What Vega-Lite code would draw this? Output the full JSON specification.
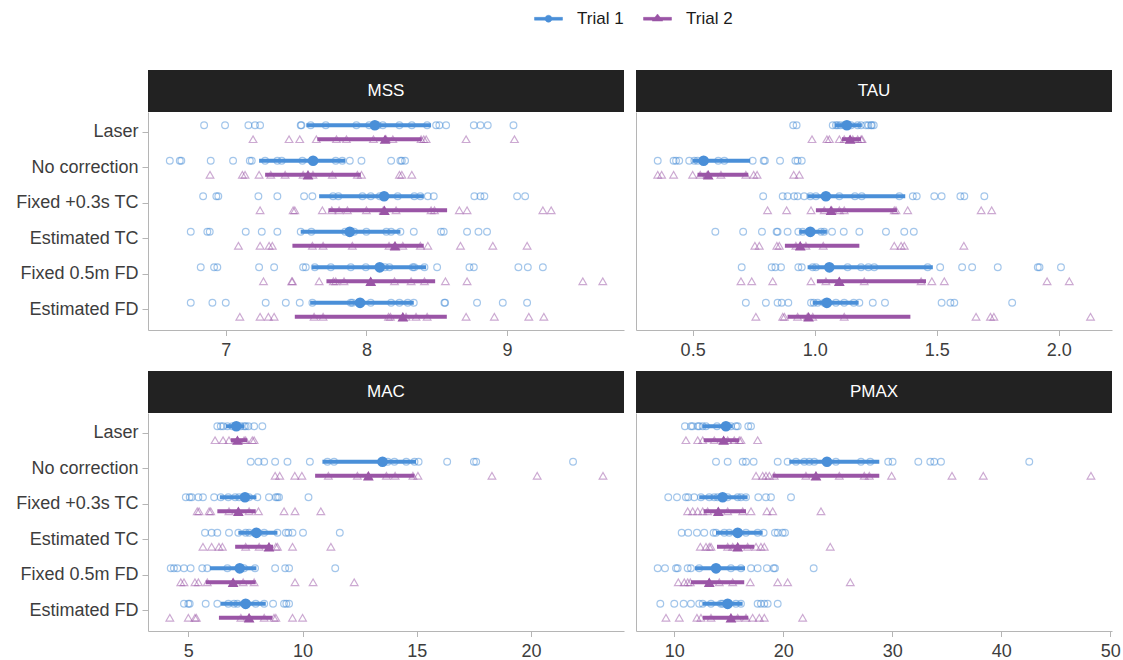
{
"$schema": "https://vega.github.io/schema/vega-lite/v6.json",
"padding": {"left": 15, "top": 4, "right": 5, "bottom": 5},
"config": {
 "font": "Liberation Sans",
 "view": {"stroke": null},
 "axis": {"grid": false, "domainColor": "#b5b5b5", "tickColor": "#b5b5b5", "labelColor": "#3d3d3d", "labelFontSize": 18, "labelFont": "Liberation Sans"},
 "legend": {"labelFontSize": 17, "labelColor": "#1a1a1a", "labelFont": "Liberation Sans"}
},
"datasets": {
"MSS": [
{"method":"Laser","trial":1,"value":6.846},{"method":"Laser","trial":1,"value":6.995},{"method":"Laser","trial":1,"value":7.161},{"method":"Laser","trial":1,"value":7.208},{"method":"Laser","trial":1,"value":7.244},{"method":"Laser","trial":1,"value":7.533},{"method":"Laser","trial":1,"value":7.538},{"method":"Laser","trial":1,"value":7.604},{"method":"Laser","trial":1,"value":7.711},{"method":"Laser","trial":1,"value":7.929},{"method":"Laser","trial":1,"value":8.02},{"method":"Laser","trial":1,"value":8.08},{"method":"Laser","trial":1,"value":8.117},{"method":"Laser","trial":1,"value":8.235},{"method":"Laser","trial":1,"value":8.323},{"method":"Laser","trial":1,"value":8.432},{"method":"Laser","trial":1,"value":8.496},{"method":"Laser","trial":1,"value":8.519},{"method":"Laser","trial":1,"value":8.567},{"method":"Laser","trial":1,"value":8.764},{"method":"Laser","trial":1,"value":8.811},{"method":"Laser","trial":1,"value":8.863},{"method":"Laser","trial":1,"value":9.046},
{"method":"Laser","trial":2,"value":7.194},{"method":"Laser","trial":2,"value":7.45},{"method":"Laser","trial":2,"value":7.526},{"method":"Laser","trial":2,"value":7.644},{"method":"Laser","trial":2,"value":7.787},{"method":"Laser","trial":2,"value":7.858},{"method":"Laser","trial":2,"value":8.05},{"method":"Laser","trial":2,"value":8.14},{"method":"Laser","trial":2,"value":8.188},{"method":"Laser","trial":2,"value":8.389},{"method":"Laser","trial":2,"value":8.408},{"method":"Laser","trial":2,"value":8.425},{"method":"Laser","trial":2,"value":8.709},{"method":"Laser","trial":2,"value":9.053},
{"method":"No correction","trial":1,"value":6.602},{"method":"No correction","trial":1,"value":6.673},{"method":"No correction","trial":1,"value":6.684},{"method":"No correction","trial":1,"value":6.893},{"method":"No correction","trial":1,"value":7.052},{"method":"No correction","trial":1,"value":7.171},{"method":"No correction","trial":1,"value":7.185},{"method":"No correction","trial":1,"value":7.28},{"method":"No correction","trial":1,"value":7.367},{"method":"No correction","trial":1,"value":7.398},{"method":"No correction","trial":1,"value":7.545},{"method":"No correction","trial":1,"value":7.62},{"method":"No correction","trial":1,"value":7.782},{"method":"No correction","trial":1,"value":7.829},{"method":"No correction","trial":1,"value":7.882},{"method":"No correction","trial":1,"value":7.965},{"method":"No correction","trial":1,"value":8.176},{"method":"No correction","trial":1,"value":8.242},{"method":"No correction","trial":1,"value":8.252},{"method":"No correction","trial":1,"value":8.275},
{"method":"No correction","trial":2,"value":6.888},{"method":"No correction","trial":2,"value":7.118},{"method":"No correction","trial":2,"value":7.137},{"method":"No correction","trial":2,"value":7.237},{"method":"No correction","trial":2,"value":7.32},{"method":"No correction","trial":2,"value":7.422},{"method":"No correction","trial":2,"value":7.55},{"method":"No correction","trial":2,"value":7.62},{"method":"No correction","trial":2,"value":7.758},{"method":"No correction","trial":2,"value":7.936},{"method":"No correction","trial":2,"value":7.965},{"method":"No correction","trial":2,"value":8.235},{"method":"No correction","trial":2,"value":8.252},{"method":"No correction","trial":2,"value":8.323},
{"method":"Fixed +0.3s TC","trial":1,"value":6.839},{"method":"Fixed +0.3s TC","trial":1,"value":6.933},{"method":"Fixed +0.3s TC","trial":1,"value":6.947},{"method":"Fixed +0.3s TC","trial":1,"value":7.232},{"method":"Fixed +0.3s TC","trial":1,"value":7.367},{"method":"Fixed +0.3s TC","trial":1,"value":7.557},{"method":"Fixed +0.3s TC","trial":1,"value":7.616},{"method":"Fixed +0.3s TC","trial":1,"value":7.763},{"method":"Fixed +0.3s TC","trial":1,"value":7.801},{"method":"Fixed +0.3s TC","trial":1,"value":7.972},{"method":"Fixed +0.3s TC","trial":1,"value":8.031},{"method":"Fixed +0.3s TC","trial":1,"value":8.095},{"method":"Fixed +0.3s TC","trial":1,"value":8.223},{"method":"Fixed +0.3s TC","trial":1,"value":8.341},{"method":"Fixed +0.3s TC","trial":1,"value":8.384},{"method":"Fixed +0.3s TC","trial":1,"value":8.437},{"method":"Fixed +0.3s TC","trial":1,"value":8.479},{"method":"Fixed +0.3s TC","trial":1,"value":8.768},{"method":"Fixed +0.3s TC","trial":1,"value":8.811},{"method":"Fixed +0.3s TC","trial":1,"value":8.839},{"method":"Fixed +0.3s TC","trial":1,"value":9.072},{"method":"Fixed +0.3s TC","trial":1,"value":9.129},
{"method":"Fixed +0.3s TC","trial":2,"value":7.244},{"method":"Fixed +0.3s TC","trial":2,"value":7.479},{"method":"Fixed +0.3s TC","trial":2,"value":7.491},{"method":"Fixed +0.3s TC","trial":2,"value":7.687},{"method":"Fixed +0.3s TC","trial":2,"value":7.754},{"method":"Fixed +0.3s TC","trial":2,"value":7.806},{"method":"Fixed +0.3s TC","trial":2,"value":7.865},{"method":"Fixed +0.3s TC","trial":2,"value":8.0},{"method":"Fixed +0.3s TC","trial":2,"value":8.12},{"method":"Fixed +0.3s TC","trial":2,"value":8.211},{"method":"Fixed +0.3s TC","trial":2,"value":8.46},{"method":"Fixed +0.3s TC","trial":2,"value":8.484},{"method":"Fixed +0.3s TC","trial":2,"value":8.661},{"method":"Fixed +0.3s TC","trial":2,"value":8.716},{"method":"Fixed +0.3s TC","trial":2,"value":9.255},{"method":"Fixed +0.3s TC","trial":2,"value":9.314},
{"method":"Estimated TC","trial":1,"value":6.751},{"method":"Estimated TC","trial":1,"value":6.869},{"method":"Estimated TC","trial":1,"value":6.886},{"method":"Estimated TC","trial":1,"value":7.142},{"method":"Estimated TC","trial":1,"value":7.256},{"method":"Estimated TC","trial":1,"value":7.367},{"method":"Estimated TC","trial":1,"value":7.533},{"method":"Estimated TC","trial":1,"value":7.609},{"method":"Estimated TC","trial":1,"value":7.849},{"method":"Estimated TC","trial":1,"value":7.913},{"method":"Estimated TC","trial":1,"value":8.0},{"method":"Estimated TC","trial":1,"value":8.142},{"method":"Estimated TC","trial":1,"value":8.176},{"method":"Estimated TC","trial":1,"value":8.242},{"method":"Estimated TC","trial":1,"value":8.337},{"method":"Estimated TC","trial":1,"value":8.531},{"method":"Estimated TC","trial":1,"value":8.55},{"method":"Estimated TC","trial":1,"value":8.716},{"method":"Estimated TC","trial":1,"value":8.797},{"method":"Estimated TC","trial":1,"value":8.858},
{"method":"Estimated TC","trial":2,"value":7.09},{"method":"Estimated TC","trial":2,"value":7.244},{"method":"Estimated TC","trial":2,"value":7.308},{"method":"Estimated TC","trial":2,"value":7.331},{"method":"Estimated TC","trial":2,"value":7.616},{"method":"Estimated TC","trial":2,"value":7.692},{"method":"Estimated TC","trial":2,"value":7.9},{"method":"Estimated TC","trial":2,"value":8.161},{"method":"Estimated TC","trial":2,"value":8.2},{"method":"Estimated TC","trial":2,"value":8.259},{"method":"Estimated TC","trial":2,"value":8.384},{"method":"Estimated TC","trial":2,"value":8.437},{"method":"Estimated TC","trial":2,"value":8.669},{"method":"Estimated TC","trial":2,"value":8.899},{"method":"Estimated TC","trial":2,"value":9.143},
{"method":"Fixed 0.5m FD","trial":1,"value":6.822},{"method":"Fixed 0.5m FD","trial":1,"value":6.917},{"method":"Fixed 0.5m FD","trial":1,"value":6.94},{"method":"Fixed 0.5m FD","trial":1,"value":7.237},{"method":"Fixed 0.5m FD","trial":1,"value":7.344},{"method":"Fixed 0.5m FD","trial":1,"value":7.55},{"method":"Fixed 0.5m FD","trial":1,"value":7.569},{"method":"Fixed 0.5m FD","trial":1,"value":7.633},{"method":"Fixed 0.5m FD","trial":1,"value":7.747},{"method":"Fixed 0.5m FD","trial":1,"value":7.889},{"method":"Fixed 0.5m FD","trial":1,"value":7.996},{"method":"Fixed 0.5m FD","trial":1,"value":8.133},{"method":"Fixed 0.5m FD","trial":1,"value":8.164},{"method":"Fixed 0.5m FD","trial":1,"value":8.33},{"method":"Fixed 0.5m FD","trial":1,"value":8.341},{"method":"Fixed 0.5m FD","trial":1,"value":8.413},{"method":"Fixed 0.5m FD","trial":1,"value":8.503},{"method":"Fixed 0.5m FD","trial":1,"value":8.733},{"method":"Fixed 0.5m FD","trial":1,"value":8.764},{"method":"Fixed 0.5m FD","trial":1,"value":9.081},{"method":"Fixed 0.5m FD","trial":1,"value":9.148},{"method":"Fixed 0.5m FD","trial":1,"value":9.255},
{"method":"Fixed 0.5m FD","trial":2,"value":7.268},{"method":"Fixed 0.5m FD","trial":2,"value":7.469},{"method":"Fixed 0.5m FD","trial":2,"value":7.474},{"method":"Fixed 0.5m FD","trial":2,"value":7.664},{"method":"Fixed 0.5m FD","trial":2,"value":7.765},{"method":"Fixed 0.5m FD","trial":2,"value":7.782},{"method":"Fixed 0.5m FD","trial":2,"value":7.841},{"method":"Fixed 0.5m FD","trial":2,"value":8.03},{"method":"Fixed 0.5m FD","trial":2,"value":8.2},{"method":"Fixed 0.5m FD","trial":2,"value":8.318},{"method":"Fixed 0.5m FD","trial":2,"value":8.413},{"method":"Fixed 0.5m FD","trial":2,"value":8.562},{"method":"Fixed 0.5m FD","trial":2,"value":8.716},{"method":"Fixed 0.5m FD","trial":2,"value":9.539},{"method":"Fixed 0.5m FD","trial":2,"value":9.681},
{"method":"Estimated FD","trial":1,"value":6.751},{"method":"Estimated FD","trial":1,"value":6.905},{"method":"Estimated FD","trial":1,"value":7.0},{"method":"Estimated FD","trial":1,"value":7.284},{"method":"Estimated FD","trial":1,"value":7.427},{"method":"Estimated FD","trial":1,"value":7.526},{"method":"Estimated FD","trial":1,"value":7.616},{"method":"Estimated FD","trial":1,"value":7.889},{"method":"Estimated FD","trial":1,"value":7.901},{"method":"Estimated FD","trial":1,"value":8.031},{"method":"Estimated FD","trial":1,"value":8.176},{"method":"Estimated FD","trial":1,"value":8.235},{"method":"Estimated FD","trial":1,"value":8.294},{"method":"Estimated FD","trial":1,"value":8.337},{"method":"Estimated FD","trial":1,"value":8.555},{"method":"Estimated FD","trial":1,"value":8.56},{"method":"Estimated FD","trial":1,"value":8.787},{"method":"Estimated FD","trial":1,"value":8.97},{"method":"Estimated FD","trial":1,"value":9.143},
{"method":"Estimated FD","trial":2,"value":7.1},{"method":"Estimated FD","trial":2,"value":7.244},{"method":"Estimated FD","trial":2,"value":7.303},{"method":"Estimated FD","trial":2,"value":7.344},{"method":"Estimated FD","trial":2,"value":7.628},{"method":"Estimated FD","trial":2,"value":7.692},{"method":"Estimated FD","trial":2,"value":8.157},{"method":"Estimated FD","trial":2,"value":8.171},{"method":"Estimated FD","trial":2,"value":8.26},{"method":"Estimated FD","trial":2,"value":8.282},{"method":"Estimated FD","trial":2,"value":8.353},{"method":"Estimated FD","trial":2,"value":8.432},{"method":"Estimated FD","trial":2,"value":8.709},{"method":"Estimated FD","trial":2,"value":8.91},{"method":"Estimated FD","trial":2,"value":9.155},{"method":"Estimated FD","trial":2,"value":9.262}
],
"TAU": [
{"method":"Laser","trial":1,"value":0.912},{"method":"Laser","trial":1,"value":0.926},{"method":"Laser","trial":1,"value":1.074},{"method":"Laser","trial":1,"value":1.087},{"method":"Laser","trial":1,"value":1.094},{"method":"Laser","trial":1,"value":1.105},{"method":"Laser","trial":1,"value":1.121},{"method":"Laser","trial":1,"value":1.132},{"method":"Laser","trial":1,"value":1.149},{"method":"Laser","trial":1,"value":1.176},{"method":"Laser","trial":1,"value":1.19},{"method":"Laser","trial":1,"value":1.21},{"method":"Laser","trial":1,"value":1.22},{"method":"Laser","trial":1,"value":1.231},{"method":"Laser","trial":1,"value":1.234},{"method":"Laser","trial":1,"value":1.242},
{"method":"Laser","trial":2,"value":0.989},{"method":"Laser","trial":2,"value":1.05},{"method":"Laser","trial":2,"value":1.06},{"method":"Laser","trial":2,"value":1.101},{"method":"Laser","trial":2,"value":1.121},{"method":"Laser","trial":2,"value":1.145},{"method":"Laser","trial":2,"value":1.156},{"method":"Laser","trial":2,"value":1.176},{"method":"Laser","trial":2,"value":1.19},{"method":"Laser","trial":2,"value":1.194},
{"method":"No correction","trial":1,"value":0.357},{"method":"No correction","trial":1,"value":0.422},{"method":"No correction","trial":1,"value":0.432},{"method":"No correction","trial":1,"value":0.445},{"method":"No correction","trial":1,"value":0.486},{"method":"No correction","trial":1,"value":0.507},{"method":"No correction","trial":1,"value":0.52},{"method":"No correction","trial":1,"value":0.605},{"method":"No correction","trial":1,"value":0.63},{"method":"No correction","trial":1,"value":0.746},{"method":"No correction","trial":1,"value":0.791},{"method":"No correction","trial":1,"value":0.796},{"method":"No correction","trial":1,"value":0.858},{"method":"No correction","trial":1,"value":0.921},{"method":"No correction","trial":1,"value":0.93},{"method":"No correction","trial":1,"value":0.947},
{"method":"No correction","trial":2,"value":0.357},{"method":"No correction","trial":2,"value":0.373},{"method":"No correction","trial":2,"value":0.422},{"method":"No correction","trial":2,"value":0.5},{"method":"No correction","trial":2,"value":0.531},{"method":"No correction","trial":2,"value":0.56},{"method":"No correction","trial":2,"value":0.616},{"method":"No correction","trial":2,"value":0.718},{"method":"No correction","trial":2,"value":0.75},{"method":"No correction","trial":2,"value":0.764},{"method":"No correction","trial":2,"value":0.914},{"method":"No correction","trial":2,"value":0.937},
{"method":"Fixed +0.3s TC","trial":1,"value":0.789},{"method":"Fixed +0.3s TC","trial":1,"value":0.869},{"method":"Fixed +0.3s TC","trial":1,"value":0.889},{"method":"Fixed +0.3s TC","trial":1,"value":0.916},{"method":"Fixed +0.3s TC","trial":1,"value":0.93},{"method":"Fixed +0.3s TC","trial":1,"value":0.957},{"method":"Fixed +0.3s TC","trial":1,"value":0.982},{"method":"Fixed +0.3s TC","trial":1,"value":1.005},{"method":"Fixed +0.3s TC","trial":1,"value":1.101},{"method":"Fixed +0.3s TC","trial":1,"value":1.165},{"method":"Fixed +0.3s TC","trial":1,"value":1.193},{"method":"Fixed +0.3s TC","trial":1,"value":1.347},{"method":"Fixed +0.3s TC","trial":1,"value":1.402},{"method":"Fixed +0.3s TC","trial":1,"value":1.418},{"method":"Fixed +0.3s TC","trial":1,"value":1.49},{"method":"Fixed +0.3s TC","trial":1,"value":1.52},{"method":"Fixed +0.3s TC","trial":1,"value":1.597},{"method":"Fixed +0.3s TC","trial":1,"value":1.613},{"method":"Fixed +0.3s TC","trial":1,"value":1.695},
{"method":"Fixed +0.3s TC","trial":2,"value":0.807},{"method":"Fixed +0.3s TC","trial":2,"value":0.885},{"method":"Fixed +0.3s TC","trial":2,"value":0.985},{"method":"Fixed +0.3s TC","trial":2,"value":1.039},{"method":"Fixed +0.3s TC","trial":2,"value":1.07},{"method":"Fixed +0.3s TC","trial":2,"value":1.101},{"method":"Fixed +0.3s TC","trial":2,"value":1.121},{"method":"Fixed +0.3s TC","trial":2,"value":1.326},{"method":"Fixed +0.3s TC","trial":2,"value":1.333},{"method":"Fixed +0.3s TC","trial":2,"value":1.381},{"method":"Fixed +0.3s TC","trial":2,"value":1.682},{"method":"Fixed +0.3s TC","trial":2,"value":1.725},
{"method":"Estimated TC","trial":1,"value":0.593},{"method":"Estimated TC","trial":1,"value":0.707},{"method":"Estimated TC","trial":1,"value":0.784},{"method":"Estimated TC","trial":1,"value":0.844},{"method":"Estimated TC","trial":1,"value":0.848},{"method":"Estimated TC","trial":1,"value":0.889},{"method":"Estimated TC","trial":1,"value":0.933},{"method":"Estimated TC","trial":1,"value":0.951},{"method":"Estimated TC","trial":1,"value":1.026},{"method":"Estimated TC","trial":1,"value":1.039},{"method":"Estimated TC","trial":1,"value":1.071},{"method":"Estimated TC","trial":1,"value":1.119},{"method":"Estimated TC","trial":1,"value":1.183},{"method":"Estimated TC","trial":1,"value":1.292},{"method":"Estimated TC","trial":1,"value":1.367},{"method":"Estimated TC","trial":1,"value":1.406},
{"method":"Estimated TC","trial":2,"value":0.755},{"method":"Estimated TC","trial":2,"value":0.773},{"method":"Estimated TC","trial":2,"value":0.845},{"method":"Estimated TC","trial":2,"value":0.855},{"method":"Estimated TC","trial":2,"value":0.923},{"method":"Estimated TC","trial":2,"value":0.94},{"method":"Estimated TC","trial":2,"value":0.964},{"method":"Estimated TC","trial":2,"value":1.035},{"method":"Estimated TC","trial":2,"value":1.326},{"method":"Estimated TC","trial":2,"value":1.354},{"method":"Estimated TC","trial":2,"value":1.367},{"method":"Estimated TC","trial":2,"value":1.611},
{"method":"Fixed 0.5m FD","trial":1,"value":0.701},{"method":"Fixed 0.5m FD","trial":1,"value":0.824},{"method":"Fixed 0.5m FD","trial":1,"value":0.839},{"method":"Fixed 0.5m FD","trial":1,"value":0.862},{"method":"Fixed 0.5m FD","trial":1,"value":0.933},{"method":"Fixed 0.5m FD","trial":1,"value":0.947},{"method":"Fixed 0.5m FD","trial":1,"value":0.992},{"method":"Fixed 0.5m FD","trial":1,"value":1.005},{"method":"Fixed 0.5m FD","trial":1,"value":1.135},{"method":"Fixed 0.5m FD","trial":1,"value":1.19},{"method":"Fixed 0.5m FD","trial":1,"value":1.22},{"method":"Fixed 0.5m FD","trial":1,"value":1.244},{"method":"Fixed 0.5m FD","trial":1,"value":1.463},{"method":"Fixed 0.5m FD","trial":1,"value":1.514},{"method":"Fixed 0.5m FD","trial":1,"value":1.604},{"method":"Fixed 0.5m FD","trial":1,"value":1.645},{"method":"Fixed 0.5m FD","trial":1,"value":1.75},{"method":"Fixed 0.5m FD","trial":1,"value":1.914},{"method":"Fixed 0.5m FD","trial":1,"value":1.921},{"method":"Fixed 0.5m FD","trial":1,"value":2.009},
{"method":"Fixed 0.5m FD","trial":2,"value":0.698},{"method":"Fixed 0.5m FD","trial":2,"value":0.742},{"method":"Fixed 0.5m FD","trial":2,"value":0.828},{"method":"Fixed 0.5m FD","trial":2,"value":0.985},{"method":"Fixed 0.5m FD","trial":2,"value":1.046},{"method":"Fixed 0.5m FD","trial":2,"value":1.1},{"method":"Fixed 0.5m FD","trial":2,"value":1.203},{"method":"Fixed 0.5m FD","trial":2,"value":1.436},{"method":"Fixed 0.5m FD","trial":2,"value":1.48},{"method":"Fixed 0.5m FD","trial":2,"value":1.531},{"method":"Fixed 0.5m FD","trial":2,"value":1.952},{"method":"Fixed 0.5m FD","trial":2,"value":2.043},
{"method":"Estimated FD","trial":1,"value":0.718},{"method":"Estimated FD","trial":1,"value":0.8},{"method":"Estimated FD","trial":1,"value":0.848},{"method":"Estimated FD","trial":1,"value":0.865},{"method":"Estimated FD","trial":1,"value":0.892},{"method":"Estimated FD","trial":1,"value":0.985},{"method":"Estimated FD","trial":1,"value":0.996},{"method":"Estimated FD","trial":1,"value":1.012},{"method":"Estimated FD","trial":1,"value":1.039},{"method":"Estimated FD","trial":1,"value":1.087},{"method":"Estimated FD","trial":1,"value":1.121},{"method":"Estimated FD","trial":1,"value":1.16},{"method":"Estimated FD","trial":1,"value":1.183},{"method":"Estimated FD","trial":1,"value":1.238},{"method":"Estimated FD","trial":1,"value":1.288},{"method":"Estimated FD","trial":1,"value":1.52},{"method":"Estimated FD","trial":1,"value":1.556},{"method":"Estimated FD","trial":1,"value":1.572},{"method":"Estimated FD","trial":1,"value":1.809},
{"method":"Estimated FD","trial":2,"value":0.759},{"method":"Estimated FD","trial":2,"value":0.869},{"method":"Estimated FD","trial":2,"value":0.876},{"method":"Estimated FD","trial":2,"value":0.93},{"method":"Estimated FD","trial":2,"value":0.97},{"method":"Estimated FD","trial":2,"value":0.992},{"method":"Estimated FD","trial":2,"value":1.121},{"method":"Estimated FD","trial":2,"value":1.661},{"method":"Estimated FD","trial":2,"value":1.72},{"method":"Estimated FD","trial":2,"value":1.734},{"method":"Estimated FD","trial":2,"value":2.13}
],
"MAC": [
{"method":"Laser","trial":1,"value":6.27},{"method":"Laser","trial":1,"value":6.42},{"method":"Laser","trial":1,"value":6.52},{"method":"Laser","trial":1,"value":6.71},{"method":"Laser","trial":1,"value":6.93},{"method":"Laser","trial":1,"value":7.1},{"method":"Laser","trial":1,"value":7.3},{"method":"Laser","trial":1,"value":7.44},{"method":"Laser","trial":1,"value":7.51},{"method":"Laser","trial":1,"value":7.63},{"method":"Laser","trial":1,"value":7.88},{"method":"Laser","trial":1,"value":8.24},
{"method":"Laser","trial":2,"value":6.17},{"method":"Laser","trial":2,"value":6.52},{"method":"Laser","trial":2,"value":6.78},{"method":"Laser","trial":2,"value":7.15},{"method":"Laser","trial":2,"value":7.44},{"method":"Laser","trial":2,"value":7.51},{"method":"Laser","trial":2,"value":7.8},{"method":"Laser","trial":2,"value":7.88},
{"method":"No correction","trial":1,"value":7.73},{"method":"No correction","trial":1,"value":8.07},{"method":"No correction","trial":1,"value":8.32},{"method":"No correction","trial":1,"value":8.8},{"method":"No correction","trial":1,"value":9.34},{"method":"No correction","trial":1,"value":10.32},{"method":"No correction","trial":1,"value":11.09},{"method":"No correction","trial":1,"value":11.38},{"method":"No correction","trial":1,"value":13.5},{"method":"No correction","trial":1,"value":13.73},{"method":"No correction","trial":1,"value":14.02},{"method":"No correction","trial":1,"value":14.54},{"method":"No correction","trial":1,"value":14.9},{"method":"No correction","trial":1,"value":15.08},{"method":"No correction","trial":1,"value":16.33},{"method":"No correction","trial":1,"value":17.5},{"method":"No correction","trial":1,"value":17.6},{"method":"No correction","trial":1,"value":21.84},
{"method":"No correction","trial":2,"value":8.8},{"method":"No correction","trial":2,"value":9.0},{"method":"No correction","trial":2,"value":9.66},{"method":"No correction","trial":2,"value":9.97},{"method":"No correction","trial":2,"value":11.13},{"method":"No correction","trial":2,"value":12.4},{"method":"No correction","trial":2,"value":12.88},{"method":"No correction","trial":2,"value":13.67},{"method":"No correction","trial":2,"value":14.05},{"method":"No correction","trial":2,"value":14.83},{"method":"No correction","trial":2,"value":15.05},{"method":"No correction","trial":2,"value":18.29},{"method":"No correction","trial":2,"value":20.27},{"method":"No correction","trial":2,"value":23.15},
{"method":"Fixed +0.3s TC","trial":1,"value":4.89},{"method":"Fixed +0.3s TC","trial":1,"value":5.06},{"method":"Fixed +0.3s TC","trial":1,"value":5.15},{"method":"Fixed +0.3s TC","trial":1,"value":5.44},{"method":"Fixed +0.3s TC","trial":1,"value":5.64},{"method":"Fixed +0.3s TC","trial":1,"value":6.13},{"method":"Fixed +0.3s TC","trial":1,"value":6.42},{"method":"Fixed +0.3s TC","trial":1,"value":6.75},{"method":"Fixed +0.3s TC","trial":1,"value":7.05},{"method":"Fixed +0.3s TC","trial":1,"value":7.22},{"method":"Fixed +0.3s TC","trial":1,"value":7.48},{"method":"Fixed +0.3s TC","trial":1,"value":7.66},{"method":"Fixed +0.3s TC","trial":1,"value":8.02},{"method":"Fixed +0.3s TC","trial":1,"value":8.53},{"method":"Fixed +0.3s TC","trial":1,"value":8.83},{"method":"Fixed +0.3s TC","trial":1,"value":8.9},{"method":"Fixed +0.3s TC","trial":1,"value":8.97},{"method":"Fixed +0.3s TC","trial":1,"value":10.26},
{"method":"Fixed +0.3s TC","trial":2,"value":5.39},{"method":"Fixed +0.3s TC","trial":2,"value":5.47},{"method":"Fixed +0.3s TC","trial":2,"value":5.91},{"method":"Fixed +0.3s TC","trial":2,"value":5.98},{"method":"Fixed +0.3s TC","trial":2,"value":6.78},{"method":"Fixed +0.3s TC","trial":2,"value":7.19},{"method":"Fixed +0.3s TC","trial":2,"value":7.66},{"method":"Fixed +0.3s TC","trial":2,"value":8.07},{"method":"Fixed +0.3s TC","trial":2,"value":9.19},{"method":"Fixed +0.3s TC","trial":2,"value":9.67},{"method":"Fixed +0.3s TC","trial":2,"value":10.8},
{"method":"Estimated TC","trial":1,"value":5.73},{"method":"Estimated TC","trial":1,"value":6.02},{"method":"Estimated TC","trial":1,"value":6.27},{"method":"Estimated TC","trial":1,"value":6.78},{"method":"Estimated TC","trial":1,"value":7.19},{"method":"Estimated TC","trial":1,"value":7.51},{"method":"Estimated TC","trial":1,"value":7.66},{"method":"Estimated TC","trial":1,"value":7.98},{"method":"Estimated TC","trial":1,"value":8.32},{"method":"Estimated TC","trial":1,"value":8.9},{"method":"Estimated TC","trial":1,"value":9.27},{"method":"Estimated TC","trial":1,"value":9.38},{"method":"Estimated TC","trial":1,"value":9.56},{"method":"Estimated TC","trial":1,"value":10.02},{"method":"Estimated TC","trial":1,"value":11.63},
{"method":"Estimated TC","trial":2,"value":5.64},{"method":"Estimated TC","trial":2,"value":6.02},{"method":"Estimated TC","trial":2,"value":6.34},{"method":"Estimated TC","trial":2,"value":6.49},{"method":"Estimated TC","trial":2,"value":7.51},{"method":"Estimated TC","trial":2,"value":8.1},{"method":"Estimated TC","trial":2,"value":8.53},{"method":"Estimated TC","trial":2,"value":8.83},{"method":"Estimated TC","trial":2,"value":8.9},{"method":"Estimated TC","trial":2,"value":9.56},{"method":"Estimated TC","trial":2,"value":11.24},
{"method":"Fixed 0.5m FD","trial":1,"value":4.23},{"method":"Fixed 0.5m FD","trial":1,"value":4.37},{"method":"Fixed 0.5m FD","trial":1,"value":4.52},{"method":"Fixed 0.5m FD","trial":1,"value":4.81},{"method":"Fixed 0.5m FD","trial":1,"value":5.1},{"method":"Fixed 0.5m FD","trial":1,"value":5.61},{"method":"Fixed 0.5m FD","trial":1,"value":5.83},{"method":"Fixed 0.5m FD","trial":1,"value":6.71},{"method":"Fixed 0.5m FD","trial":1,"value":7.25},{"method":"Fixed 0.5m FD","trial":1,"value":7.44},{"method":"Fixed 0.5m FD","trial":1,"value":7.92},{"method":"Fixed 0.5m FD","trial":1,"value":8.8},{"method":"Fixed 0.5m FD","trial":1,"value":9.24},{"method":"Fixed 0.5m FD","trial":1,"value":9.41},{"method":"Fixed 0.5m FD","trial":1,"value":11.43},
{"method":"Fixed 0.5m FD","trial":2,"value":4.67},{"method":"Fixed 0.5m FD","trial":2,"value":4.81},{"method":"Fixed 0.5m FD","trial":2,"value":5.29},{"method":"Fixed 0.5m FD","trial":2,"value":5.44},{"method":"Fixed 0.5m FD","trial":2,"value":5.83},{"method":"Fixed 0.5m FD","trial":2,"value":6.96},{"method":"Fixed 0.5m FD","trial":2,"value":7.4},{"method":"Fixed 0.5m FD","trial":2,"value":7.88},{"method":"Fixed 0.5m FD","trial":2,"value":9.67},{"method":"Fixed 0.5m FD","trial":2,"value":10.46},{"method":"Fixed 0.5m FD","trial":2,"value":12.26},
{"method":"Estimated FD","trial":1,"value":4.81},{"method":"Estimated FD","trial":1,"value":5.0},{"method":"Estimated FD","trial":1,"value":5.06},{"method":"Estimated FD","trial":1,"value":5.76},{"method":"Estimated FD","trial":1,"value":6.27},{"method":"Estimated FD","trial":1,"value":6.75},{"method":"Estimated FD","trial":1,"value":7.0},{"method":"Estimated FD","trial":1,"value":7.15},{"method":"Estimated FD","trial":1,"value":7.51},{"method":"Estimated FD","trial":1,"value":7.95},{"method":"Estimated FD","trial":1,"value":8.32},{"method":"Estimated FD","trial":1,"value":8.71},{"method":"Estimated FD","trial":1,"value":9.19},{"method":"Estimated FD","trial":1,"value":9.29},{"method":"Estimated FD","trial":1,"value":9.41},
{"method":"Estimated FD","trial":2,"value":4.19},{"method":"Estimated FD","trial":2,"value":5.0},{"method":"Estimated FD","trial":2,"value":5.29},{"method":"Estimated FD","trial":2,"value":5.35},{"method":"Estimated FD","trial":2,"value":7.3},{"method":"Estimated FD","trial":2,"value":7.66},{"method":"Estimated FD","trial":2,"value":8.32},{"method":"Estimated FD","trial":2,"value":8.75},{"method":"Estimated FD","trial":2,"value":8.83},{"method":"Estimated FD","trial":2,"value":9.56},{"method":"Estimated FD","trial":2,"value":10.0}
],
"PMAX": [
{"method":"Laser","trial":1,"value":10.98},{"method":"Laser","trial":1,"value":11.53},{"method":"Laser","trial":1,"value":11.69},{"method":"Laser","trial":1,"value":12.15},{"method":"Laser","trial":1,"value":12.29},{"method":"Laser","trial":1,"value":12.61},{"method":"Laser","trial":1,"value":12.91},{"method":"Laser","trial":1,"value":13.92},{"method":"Laser","trial":1,"value":14.74},{"method":"Laser","trial":1,"value":15.2},{"method":"Laser","trial":1,"value":15.66},{"method":"Laser","trial":1,"value":15.82},{"method":"Laser","trial":1,"value":16.79},{"method":"Laser","trial":1,"value":17.04},
{"method":"Laser","trial":2,"value":11.07},{"method":"Laser","trial":2,"value":12.15},{"method":"Laser","trial":2,"value":12.61},{"method":"Laser","trial":2,"value":13.67},{"method":"Laser","trial":2,"value":14.53},{"method":"Laser","trial":2,"value":14.9},{"method":"Laser","trial":2,"value":15.5},{"method":"Laser","trial":2,"value":15.96},{"method":"Laser","trial":2,"value":16.12},{"method":"Laser","trial":2,"value":17.65},
{"method":"No correction","trial":1,"value":13.83},{"method":"No correction","trial":1,"value":14.9},{"method":"No correction","trial":1,"value":16.28},{"method":"No correction","trial":1,"value":16.58},{"method":"No correction","trial":1,"value":17.28},{"method":"No correction","trial":1,"value":19.49},{"method":"No correction","trial":1,"value":20.4},{"method":"No correction","trial":1,"value":21.17},{"method":"No correction","trial":1,"value":21.93},{"method":"No correction","trial":1,"value":22.39},{"method":"No correction","trial":1,"value":22.84},{"method":"No correction","trial":1,"value":24.01},{"method":"No correction","trial":1,"value":24.83},{"method":"No correction","trial":1,"value":27.13},{"method":"No correction","trial":1,"value":27.98},{"method":"No correction","trial":1,"value":29.63},{"method":"No correction","trial":1,"value":30.03},{"method":"No correction","trial":1,"value":32.39},{"method":"No correction","trial":1,"value":33.49},{"method":"No correction","trial":1,"value":33.85},{"method":"No correction","trial":1,"value":34.47},{"method":"No correction","trial":1,"value":42.57},
{"method":"No correction","trial":2,"value":17.5},{"method":"No correction","trial":2,"value":18.11},{"method":"No correction","trial":2,"value":18.41},{"method":"No correction","trial":2,"value":18.72},{"method":"No correction","trial":2,"value":19.17},{"method":"No correction","trial":2,"value":22.08},{"method":"No correction","trial":2,"value":23.0},{"method":"No correction","trial":2,"value":25.14},{"method":"No correction","trial":2,"value":27.43},{"method":"No correction","trial":2,"value":27.89},{"method":"No correction","trial":2,"value":29.94},{"method":"No correction","trial":2,"value":35.48},{"method":"No correction","trial":2,"value":38.35},{"method":"No correction","trial":2,"value":48.23},
{"method":"Fixed +0.3s TC","trial":1,"value":9.45},{"method":"Fixed +0.3s TC","trial":1,"value":10.25},{"method":"Fixed +0.3s TC","trial":1,"value":11.07},{"method":"Fixed +0.3s TC","trial":1,"value":11.28},{"method":"Fixed +0.3s TC","trial":1,"value":11.83},{"method":"Fixed +0.3s TC","trial":1,"value":12.45},{"method":"Fixed +0.3s TC","trial":1,"value":13.21},{"method":"Fixed +0.3s TC","trial":1,"value":13.67},{"method":"Fixed +0.3s TC","trial":1,"value":13.98},{"method":"Fixed +0.3s TC","trial":1,"value":14.44},{"method":"Fixed +0.3s TC","trial":1,"value":14.9},{"method":"Fixed +0.3s TC","trial":1,"value":15.82},{"method":"Fixed +0.3s TC","trial":1,"value":16.12},{"method":"Fixed +0.3s TC","trial":1,"value":16.58},{"method":"Fixed +0.3s TC","trial":1,"value":17.71},{"method":"Fixed +0.3s TC","trial":1,"value":18.41},{"method":"Fixed +0.3s TC","trial":1,"value":18.87},{"method":"Fixed +0.3s TC","trial":1,"value":20.71},
{"method":"Fixed +0.3s TC","trial":2,"value":11.23},{"method":"Fixed +0.3s TC","trial":2,"value":11.69},{"method":"Fixed +0.3s TC","trial":2,"value":12.15},{"method":"Fixed +0.3s TC","trial":2,"value":12.61},{"method":"Fixed +0.3s TC","trial":2,"value":13.06},{"method":"Fixed +0.3s TC","trial":2,"value":14.04},{"method":"Fixed +0.3s TC","trial":2,"value":14.9},{"method":"Fixed +0.3s TC","trial":2,"value":16.28},{"method":"Fixed +0.3s TC","trial":2,"value":17.04},{"method":"Fixed +0.3s TC","trial":2,"value":18.5},{"method":"Fixed +0.3s TC","trial":2,"value":19.03},{"method":"Fixed +0.3s TC","trial":2,"value":23.46},
{"method":"Estimated TC","trial":1,"value":10.68},{"method":"Estimated TC","trial":1,"value":11.28},{"method":"Estimated TC","trial":1,"value":12.08},{"method":"Estimated TC","trial":1,"value":12.75},{"method":"Estimated TC","trial":1,"value":13.61},{"method":"Estimated TC","trial":1,"value":13.83},{"method":"Estimated TC","trial":1,"value":14.59},{"method":"Estimated TC","trial":1,"value":15.05},{"method":"Estimated TC","trial":1,"value":15.82},{"method":"Estimated TC","trial":1,"value":16.58},{"method":"Estimated TC","trial":1,"value":17.65},{"method":"Estimated TC","trial":1,"value":18.2},{"method":"Estimated TC","trial":1,"value":19.24},{"method":"Estimated TC","trial":1,"value":19.49},{"method":"Estimated TC","trial":1,"value":19.94},{"method":"Estimated TC","trial":1,"value":20.16},
{"method":"Estimated TC","trial":2,"value":12.39},{"method":"Estimated TC","trial":2,"value":12.91},{"method":"Estimated TC","trial":2,"value":13.21},{"method":"Estimated TC","trial":2,"value":13.37},{"method":"Estimated TC","trial":2,"value":14.9},{"method":"Estimated TC","trial":2,"value":15.36},{"method":"Estimated TC","trial":2,"value":15.82},{"method":"Estimated TC","trial":2,"value":16.73},{"method":"Estimated TC","trial":2,"value":17.5},{"method":"Estimated TC","trial":2,"value":17.95},{"method":"Estimated TC","trial":2,"value":18.26},{"method":"Estimated TC","trial":2,"value":24.31},
{"method":"Fixed 0.5m FD","trial":1,"value":8.48},{"method":"Fixed 0.5m FD","trial":1,"value":9.15},{"method":"Fixed 0.5m FD","trial":1,"value":10.16},{"method":"Fixed 0.5m FD","trial":1,"value":10.31},{"method":"Fixed 0.5m FD","trial":1,"value":11.23},{"method":"Fixed 0.5m FD","trial":1,"value":11.53},{"method":"Fixed 0.5m FD","trial":1,"value":12.29},{"method":"Fixed 0.5m FD","trial":1,"value":13.83},{"method":"Fixed 0.5m FD","trial":1,"value":15.2},{"method":"Fixed 0.5m FD","trial":1,"value":16.12},{"method":"Fixed 0.5m FD","trial":1,"value":17.04},{"method":"Fixed 0.5m FD","trial":1,"value":17.65},{"method":"Fixed 0.5m FD","trial":1,"value":18.5},{"method":"Fixed 0.5m FD","trial":1,"value":19.12},{"method":"Fixed 0.5m FD","trial":1,"value":19.24},{"method":"Fixed 0.5m FD","trial":1,"value":22.79},
{"method":"Fixed 0.5m FD","trial":2,"value":10.37},{"method":"Fixed 0.5m FD","trial":2,"value":10.92},{"method":"Fixed 0.5m FD","trial":2,"value":11.23},{"method":"Fixed 0.5m FD","trial":2,"value":11.47},{"method":"Fixed 0.5m FD","trial":2,"value":13.21},{"method":"Fixed 0.5m FD","trial":2,"value":14.13},{"method":"Fixed 0.5m FD","trial":2,"value":15.36},{"method":"Fixed 0.5m FD","trial":2,"value":16.97},{"method":"Fixed 0.5m FD","trial":2,"value":19.49},{"method":"Fixed 0.5m FD","trial":2,"value":20.4},{"method":"Fixed 0.5m FD","trial":2,"value":26.15},
{"method":"Estimated FD","trial":1,"value":8.72},{"method":"Estimated FD","trial":1,"value":10.0},{"method":"Estimated FD","trial":1,"value":10.86},{"method":"Estimated FD","trial":1,"value":11.53},{"method":"Estimated FD","trial":1,"value":12.29},{"method":"Estimated FD","trial":1,"value":12.61},{"method":"Estimated FD","trial":1,"value":13.37},{"method":"Estimated FD","trial":1,"value":14.28},{"method":"Estimated FD","trial":1,"value":14.44},{"method":"Estimated FD","trial":1,"value":14.9},{"method":"Estimated FD","trial":1,"value":15.66},{"method":"Estimated FD","trial":1,"value":16.12},{"method":"Estimated FD","trial":1,"value":17.65},{"method":"Estimated FD","trial":1,"value":17.95},{"method":"Estimated FD","trial":1,"value":18.26},{"method":"Estimated FD","trial":1,"value":18.57},{"method":"Estimated FD","trial":1,"value":19.49},
{"method":"Estimated FD","trial":2,"value":9.24},{"method":"Estimated FD","trial":2,"value":10.46},{"method":"Estimated FD","trial":2,"value":12.08},{"method":"Estimated FD","trial":2,"value":12.45},{"method":"Estimated FD","trial":2,"value":13.37},{"method":"Estimated FD","trial":2,"value":15.2},{"method":"Estimated FD","trial":2,"value":15.82},{"method":"Estimated FD","trial":2,"value":16.58},{"method":"Estimated FD","trial":2,"value":17.19},{"method":"Estimated FD","trial":2,"value":17.8},{"method":"Estimated FD","trial":2,"value":18.26},{"method":"Estimated FD","trial":2,"value":21.78}
],
"summary": [
{"measure":"MSS","method":"Laser","trial":1,"mean":8.06,"lo":7.573,"hi":8.46},{"measure":"MSS","method":"Laser","trial":2,"mean":8.133,"lo":7.651,"hi":8.394},
{"measure":"MSS","method":"No correction","trial":1,"mean":7.621,"lo":7.237,"hi":7.848},{"measure":"MSS","method":"No correction","trial":2,"mean":7.585,"lo":7.28,"hi":7.96},
{"measure":"MSS","method":"Fixed +0.3s TC","trial":1,"mean":8.126,"lo":7.664,"hi":8.408},{"measure":"MSS","method":"Fixed +0.3s TC","trial":2,"mean":8.128,"lo":7.73,"hi":8.574},
{"measure":"MSS","method":"Estimated TC","trial":1,"mean":7.882,"lo":7.533,"hi":8.242},{"measure":"MSS","method":"Estimated TC","trial":2,"mean":8.204,"lo":7.474,"hi":8.408},
{"measure":"MSS","method":"Fixed 0.5m FD","trial":1,"mean":8.095,"lo":7.612,"hi":8.425},{"measure":"MSS","method":"Fixed 0.5m FD","trial":2,"mean":8.031,"lo":7.716,"hi":8.489},
{"measure":"MSS","method":"Estimated FD","trial":1,"mean":7.955,"lo":7.6,"hi":8.337},{"measure":"MSS","method":"Estimated FD","trial":2,"mean":8.259,"lo":7.491,"hi":8.572},
{"measure":"TAU","method":"Laser","trial":1,"mean":1.132,"lo":1.083,"hi":1.193},{"measure":"TAU","method":"Laser","trial":2,"mean":1.145,"lo":1.112,"hi":1.19},
{"measure":"TAU","method":"No correction","trial":1,"mean":0.545,"lo":0.5,"hi":0.736},{"measure":"TAU","method":"No correction","trial":2,"mean":0.564,"lo":0.52,"hi":0.728},
{"measure":"TAU","method":"Fixed +0.3s TC","trial":1,"mean":1.046,"lo":0.971,"hi":1.371},{"measure":"TAU","method":"Fixed +0.3s TC","trial":2,"mean":1.067,"lo":1.005,"hi":1.337},
{"measure":"TAU","method":"Estimated TC","trial":1,"mean":0.982,"lo":0.937,"hi":1.05},{"measure":"TAU","method":"Estimated TC","trial":2,"mean":0.941,"lo":0.878,"hi":1.183},
{"measure":"TAU","method":"Fixed 0.5m FD","trial":1,"mean":1.06,"lo":0.971,"hi":1.484},{"measure":"TAU","method":"Fixed 0.5m FD","trial":2,"mean":1.101,"lo":1.009,"hi":1.456},
{"measure":"TAU","method":"Estimated FD","trial":1,"mean":1.05,"lo":0.992,"hi":1.18},{"measure":"TAU","method":"Estimated FD","trial":2,"mean":0.975,"lo":0.889,"hi":1.392},
{"measure":"MAC","method":"Laser","trial":1,"mean":7.1,"lo":6.64,"hi":7.44},{"measure":"MAC","method":"Laser","trial":2,"mean":7.15,"lo":6.86,"hi":7.58},
{"measure":"MAC","method":"No correction","trial":1,"mean":13.5,"lo":10.87,"hi":14.97},{"measure":"MAC","method":"No correction","trial":2,"mean":12.88,"lo":10.55,"hi":14.9},
{"measure":"MAC","method":"Fixed +0.3s TC","trial":1,"mean":7.48,"lo":6.38,"hi":7.98},{"measure":"MAC","method":"Fixed +0.3s TC","trial":2,"mean":7.19,"lo":6.27,"hi":7.95},
{"measure":"MAC","method":"Estimated TC","trial":1,"mean":7.98,"lo":7.19,"hi":8.9},{"measure":"MAC","method":"Estimated TC","trial":2,"mean":8.53,"lo":7.05,"hi":8.71},
{"measure":"MAC","method":"Fixed 0.5m FD","trial":1,"mean":7.25,"lo":5.94,"hi":7.98},{"measure":"MAC","method":"Fixed 0.5m FD","trial":2,"mean":6.96,"lo":5.76,"hi":7.95},
{"measure":"MAC","method":"Estimated FD","trial":1,"mean":7.51,"lo":6.42,"hi":8.39},{"measure":"MAC","method":"Estimated FD","trial":2,"mean":7.66,"lo":6.34,"hi":8.68},
{"measure":"PMAX","method":"Laser","trial":1,"mean":14.74,"lo":12.61,"hi":15.36},{"measure":"PMAX","method":"Laser","trial":2,"mean":14.53,"lo":12.7,"hi":15.96},
{"measure":"PMAX","method":"No correction","trial":1,"mean":24.01,"lo":20.55,"hi":28.81},{"measure":"PMAX","method":"No correction","trial":2,"mean":23.0,"lo":19.03,"hi":28.81},
{"measure":"PMAX","method":"Fixed +0.3s TC","trial":1,"mean":14.44,"lo":12.29,"hi":16.73},{"measure":"PMAX","method":"Fixed +0.3s TC","trial":2,"mean":14.04,"lo":12.7,"hi":16.58},
{"measure":"PMAX","method":"Estimated TC","trial":1,"mean":15.82,"lo":13.83,"hi":18.11},{"measure":"PMAX","method":"Estimated TC","trial":2,"mean":15.82,"lo":13.92,"hi":17.34},
{"measure":"PMAX","method":"Fixed 0.5m FD","trial":1,"mean":13.83,"lo":11.9,"hi":16.49},{"measure":"PMAX","method":"Fixed 0.5m FD","trial":2,"mean":13.21,"lo":11.53,"hi":16.42},
{"measure":"PMAX","method":"Estimated FD","trial":1,"mean":14.9,"lo":12.61,"hi":16.27},{"measure":"PMAX","method":"Estimated FD","trial":2,"mean":15.2,"lo":12.61,"hi":16.79}
]
},
"concat": [
{"vconcat": [
 {"width": 476, "height": 42, "data": {"values": [{"measure": "MSS"}]}, "view": {"fill": "#222222", "stroke": null},
  "mark": {"type": "text", "color": "#ffffff", "fontSize": 17, "font": "Liberation Sans"},
  "encoding": {"text": {"field": "measure", "type": "nominal"}}},
 {"width": 476, "height": 218,
  "encoding": {
   "y": {"field": "method", "type": "nominal", "title": null, "scale": {"type": "band", "domain": ["Laser", "No correction", "Fixed +0.3s TC", "Estimated TC", "Fixed 0.5m FD", "Estimated FD"], "paddingInner": 0, "paddingOuter": 0.07}, "axis": {"tickSize": 6, "labelPadding": 4, "domain": true}},
   "yOffset": {"field": "trial", "type": "nominal", "scale": {"domain": [1, 2], "paddingInner": 0, "paddingOuter": 0.27}},
   "color": {"field": "trial", "type": "nominal", "title": null, "scale": {"domain": [1, 2], "range": ["#4a8fd8", "#9a55a6"]},
    "legend": {"orient": "none", "legendX": 386, "legendY": -66, "direction": "horizontal", "symbolSize": 784, "labelOffset": 14, "columnPadding": 18, "labelExpr": "'Trial ' + datum.label",
     "encode": {"symbols": {"update": {"shape": [{"test": "datum.value == 2", "value": "M-1,-0.1H1V0.1H-1Z M0,-0.34L0.38,0.16L-0.38,0.16Z"}, {"value": "M-1,-0.1H1V0.1H-1Z M-0.25,0A0.25,0.25 0 1,1 0.25,0A0.25,0.25 0 1,1 -0.25,0Z"}], "fill": [{"test": "datum.value == 2", "value": "#9a55a6"}, {"value": "#4a8fd8"}], "stroke": [{"test": "datum.value == 2", "value": "#9a55a6"}, {"value": "#4a8fd8"}], "strokeWidth": {"value": 0.5}, "opacity": {"value": 1}, "fillOpacity": {"value": 1}, "strokeOpacity": {"value": 1}}}}}}
  },
  "layer": [
   {"data": {"name": "MSS"}, "transform": [{"filter": "datum.trial == 1"}], "mark": {"type": "point", "shape": "circle", "filled": false, "size": 45, "strokeWidth": 1.2, "opacity": 0.5},
    "encoding": {"x": {"field": "value", "type": "quantitative", "title": null, "scale": {"domain": [6.447, 9.832], "nice": false, "zero": false}, "axis": {"values": [7, 8, 9], "format": "d", "tickSize": 5.5, "labelPadding": 6}}}},
   {"data": {"name": "MSS"}, "transform": [{"filter": "datum.trial == 2"}], "mark": {"type": "point", "shape": "triangle-up", "filled": false, "size": 58, "strokeWidth": 1.2, "opacity": 0.5},
    "encoding": {"x": {"field": "value", "type": "quantitative", "title": null, "scale": {"domain": [6.447, 9.832], "nice": false, "zero": false}}}},
   {"data": {"name": "summary"}, "transform": [{"filter": "datum.measure == 'MSS'"}], "mark": {"type": "rule", "strokeWidth": 4},
    "encoding": {"x": {"field": "lo", "type": "quantitative", "title": null, "scale": {"domain": [6.447, 9.832], "nice": false, "zero": false}}, "x2": {"field": "hi"}}},
   {"data": {"name": "summary"}, "transform": [{"filter": "datum.measure == 'MSS' && datum.trial == 1"}], "mark": {"type": "point", "shape": "circle", "filled": true, "size": 115, "opacity": 1},
    "encoding": {"x": {"field": "mean", "type": "quantitative", "title": null, "scale": {"domain": [6.447, 9.832], "nice": false, "zero": false}}}},
   {"data": {"name": "summary"}, "transform": [{"filter": "datum.measure == 'MSS' && datum.trial == 2"}], "mark": {"type": "point", "shape": "triangle-up", "filled": true, "size": 115, "opacity": 1},
    "encoding": {"x": {"field": "mean", "type": "quantitative", "title": null, "scale": {"domain": [6.447, 9.832], "nice": false, "zero": false}}}}
  ]}
], "spacing": 0, "bounds": "flush"},
{"vconcat": [
 {"width": 476, "height": 42, "data": {"values": [{"measure": "TAU"}]}, "view": {"fill": "#222222", "stroke": null},
  "mark": {"type": "text", "color": "#ffffff", "fontSize": 17, "font": "Liberation Sans"},
  "encoding": {"text": {"field": "measure", "type": "nominal"}}},
 {"width": 476, "height": 218,
  "encoding": {
   "y": {"field": "method", "type": "nominal", "title": null, "scale": {"type": "band", "domain": ["Laser", "No correction", "Fixed +0.3s TC", "Estimated TC", "Fixed 0.5m FD", "Estimated FD"], "paddingInner": 0, "paddingOuter": 0.07}, "axis": {"labels": false, "ticks": false, "domain": true}},
   "yOffset": {"field": "trial", "type": "nominal", "scale": {"domain": [1, 2], "paddingInner": 0, "paddingOuter": 0.27}},
   "color": {"field": "trial", "type": "nominal", "title": null, "scale": {"domain": [1, 2], "range": ["#4a8fd8", "#9a55a6"]}}
  },
  "layer": [
   {"data": {"name": "TAU"}, "transform": [{"filter": "datum.trial == 1"}], "mark": {"type": "point", "shape": "circle", "filled": false, "size": 45, "strokeWidth": 1.2, "opacity": 0.5},
    "encoding": {"x": {"field": "value", "type": "quantitative", "title": null, "scale": {"domain": [0.268, 2.218], "nice": false, "zero": false}, "axis": {"values": [0.5, 1, 1.5, 2], "format": ".1f", "tickSize": 5.5, "labelPadding": 6}}}},
   {"data": {"name": "TAU"}, "transform": [{"filter": "datum.trial == 2"}], "mark": {"type": "point", "shape": "triangle-up", "filled": false, "size": 58, "strokeWidth": 1.2, "opacity": 0.5},
    "encoding": {"x": {"field": "value", "type": "quantitative", "title": null, "scale": {"domain": [0.268, 2.218], "nice": false, "zero": false}}}},
   {"data": {"name": "summary"}, "transform": [{"filter": "datum.measure == 'TAU'"}], "mark": {"type": "rule", "strokeWidth": 4},
    "encoding": {"x": {"field": "lo", "type": "quantitative", "title": null, "scale": {"domain": [0.268, 2.218], "nice": false, "zero": false}}, "x2": {"field": "hi"}}},
   {"data": {"name": "summary"}, "transform": [{"filter": "datum.measure == 'TAU' && datum.trial == 1"}], "mark": {"type": "point", "shape": "circle", "filled": true, "size": 115, "opacity": 1},
    "encoding": {"x": {"field": "mean", "type": "quantitative", "title": null, "scale": {"domain": [0.268, 2.218], "nice": false, "zero": false}}}},
   {"data": {"name": "summary"}, "transform": [{"filter": "datum.measure == 'TAU' && datum.trial == 2"}], "mark": {"type": "point", "shape": "triangle-up", "filled": true, "size": 115, "opacity": 1},
    "encoding": {"x": {"field": "mean", "type": "quantitative", "title": null, "scale": {"domain": [0.268, 2.218], "nice": false, "zero": false}}}}
  ]}
], "spacing": 0, "bounds": "flush"},
{"vconcat": [
 {"width": 476, "height": 42, "data": {"values": [{"measure": "MAC"}]}, "view": {"fill": "#222222", "stroke": null},
  "mark": {"type": "text", "color": "#ffffff", "fontSize": 17, "font": "Liberation Sans"},
  "encoding": {"text": {"field": "measure", "type": "nominal"}}},
 {"width": 476, "height": 218,
  "encoding": {
   "y": {"field": "method", "type": "nominal", "title": null, "scale": {"type": "band", "domain": ["Laser", "No correction", "Fixed +0.3s TC", "Estimated TC", "Fixed 0.5m FD", "Estimated FD"], "paddingInner": 0, "paddingOuter": 0.07}, "axis": {"tickSize": 6, "labelPadding": 4, "domain": true}},
   "yOffset": {"field": "trial", "type": "nominal", "scale": {"domain": [1, 2], "paddingInner": 0, "paddingOuter": 0.27}},
   "color": {"field": "trial", "type": "nominal", "title": null, "scale": {"domain": [1, 2], "range": ["#4a8fd8", "#9a55a6"]}}
  },
  "layer": [
   {"data": {"name": "MAC"}, "transform": [{"filter": "datum.trial == 1"}], "mark": {"type": "point", "shape": "circle", "filled": false, "size": 45, "strokeWidth": 1.2, "opacity": 0.5},
    "encoding": {"x": {"field": "value", "type": "quantitative", "title": null, "scale": {"domain": [3.235, 24.07], "nice": false, "zero": false}, "axis": {"values": [5, 10, 15, 20], "format": "d", "tickSize": 5.5, "labelPadding": 6}}}},
   {"data": {"name": "MAC"}, "transform": [{"filter": "datum.trial == 2"}], "mark": {"type": "point", "shape": "triangle-up", "filled": false, "size": 58, "strokeWidth": 1.2, "opacity": 0.5},
    "encoding": {"x": {"field": "value", "type": "quantitative", "title": null, "scale": {"domain": [3.235, 24.07], "nice": false, "zero": false}}}},
   {"data": {"name": "summary"}, "transform": [{"filter": "datum.measure == 'MAC'"}], "mark": {"type": "rule", "strokeWidth": 4},
    "encoding": {"x": {"field": "lo", "type": "quantitative", "title": null, "scale": {"domain": [3.235, 24.07], "nice": false, "zero": false}}, "x2": {"field": "hi"}}},
   {"data": {"name": "summary"}, "transform": [{"filter": "datum.measure == 'MAC' && datum.trial == 1"}], "mark": {"type": "point", "shape": "circle", "filled": true, "size": 115, "opacity": 1},
    "encoding": {"x": {"field": "mean", "type": "quantitative", "title": null, "scale": {"domain": [3.235, 24.07], "nice": false, "zero": false}}}},
   {"data": {"name": "summary"}, "transform": [{"filter": "datum.measure == 'MAC' && datum.trial == 2"}], "mark": {"type": "point", "shape": "triangle-up", "filled": true, "size": 115, "opacity": 1},
    "encoding": {"x": {"field": "mean", "type": "quantitative", "title": null, "scale": {"domain": [3.235, 24.07], "nice": false, "zero": false}}}}
  ]}
], "spacing": 0, "bounds": "flush"},
{"vconcat": [
 {"width": 476, "height": 42, "data": {"values": [{"measure": "PMAX"}]}, "view": {"fill": "#222222", "stroke": null},
  "mark": {"type": "text", "color": "#ffffff", "fontSize": 17, "font": "Liberation Sans"},
  "encoding": {"text": {"field": "measure", "type": "nominal"}}},
 {"width": 476, "height": 218,
  "encoding": {
   "y": {"field": "method", "type": "nominal", "title": null, "scale": {"type": "band", "domain": ["Laser", "No correction", "Fixed +0.3s TC", "Estimated TC", "Fixed 0.5m FD", "Estimated FD"], "paddingInner": 0, "paddingOuter": 0.07}, "axis": {"labels": false, "ticks": false, "domain": true}},
   "yOffset": {"field": "trial", "type": "nominal", "scale": {"domain": [1, 2], "paddingInner": 0, "paddingOuter": 0.27}},
   "color": {"field": "trial", "type": "nominal", "title": null, "scale": {"domain": [1, 2], "range": ["#4a8fd8", "#9a55a6"]}}
  },
  "layer": [
   {"data": {"name": "PMAX"}, "transform": [{"filter": "datum.trial == 1"}], "mark": {"type": "point", "shape": "circle", "filled": false, "size": 45, "strokeWidth": 1.2, "opacity": 0.5},
    "encoding": {"x": {"field": "value", "type": "quantitative", "title": null, "scale": {"domain": [6.49, 50.16], "nice": false, "zero": false}, "axis": {"values": [10, 20, 30, 40, 50], "format": "d", "tickSize": 5.5, "labelPadding": 6}}}},
   {"data": {"name": "PMAX"}, "transform": [{"filter": "datum.trial == 2"}], "mark": {"type": "point", "shape": "triangle-up", "filled": false, "size": 58, "strokeWidth": 1.2, "opacity": 0.5},
    "encoding": {"x": {"field": "value", "type": "quantitative", "title": null, "scale": {"domain": [6.49, 50.16], "nice": false, "zero": false}}}},
   {"data": {"name": "summary"}, "transform": [{"filter": "datum.measure == 'PMAX'"}], "mark": {"type": "rule", "strokeWidth": 4},
    "encoding": {"x": {"field": "lo", "type": "quantitative", "title": null, "scale": {"domain": [6.49, 50.16], "nice": false, "zero": false}}, "x2": {"field": "hi"}}},
   {"data": {"name": "summary"}, "transform": [{"filter": "datum.measure == 'PMAX' && datum.trial == 1"}], "mark": {"type": "point", "shape": "circle", "filled": true, "size": 115, "opacity": 1},
    "encoding": {"x": {"field": "mean", "type": "quantitative", "title": null, "scale": {"domain": [6.49, 50.16], "nice": false, "zero": false}}}},
   {"data": {"name": "summary"}, "transform": [{"filter": "datum.measure == 'PMAX' && datum.trial == 2"}], "mark": {"type": "point", "shape": "triangle-up", "filled": true, "size": 115, "opacity": 1},
    "encoding": {"x": {"field": "mean", "type": "quantitative", "title": null, "scale": {"domain": [6.49, 50.16], "nice": false, "zero": false}}}}
  ]}
], "spacing": 0, "bounds": "flush"}
],
"columns": 2,
"spacing": {"row": 11, "column": 12}
}
